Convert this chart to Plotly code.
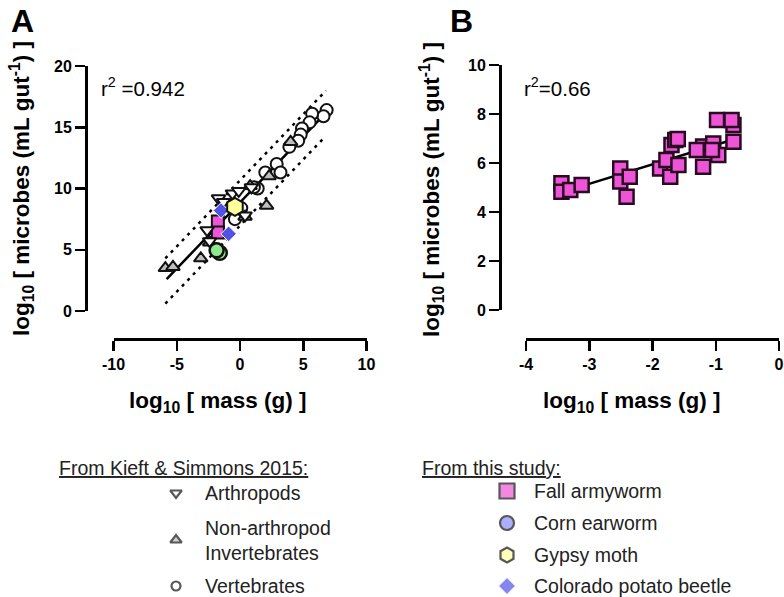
import plotly.graph_objects as go

W, H = 784, 597

# ---------------- Panel A data (log10 mass, log10 microbes) ----------------
arth_x = [-2.6, -2.4, -1.7, -1.3, -0.6, -0.1, 0.9, 0.4]
arth_y = [6.6, 5.7, 9.2, 8.9, 9.6, 9.8, 10.1, 7.8]

inv_x = [-5.9, -5.3, -3.1, -2.4, 0.8, 0.4, 2.1, 2.3, 4.0]
inv_y = [3.5, 3.6, 4.3, 5.6, 10.2, 7.7, 8.6, 11.0, 13.8]

vert_x = [6.85, 6.6, 5.7, 5.5, 4.9, 4.8, 4.6, 3.9, 2.9, 3.2, 2.0, 1.4, 1.1, -0.4, 0.1]
vert_y = [16.4, 15.9, 16.1, 15.4, 14.9, 14.4, 13.9, 13.4, 12.0, 11.3, 11.3, 10.0, 10.1, 7.5, 8.4]

faw_a_x = [-1.75, -1.75]
faw_a_y = [7.3, 6.4]
cew_a_x = [-1.6, -1.85]
cew_a_y = [4.75, 4.95]
gm_a_x = [-0.4]
gm_a_y = [8.5]
cpb_a_x = [-1.5, -0.9]
cpb_a_y = [8.2, 6.3]

fitA_x = [-5.8, 6.9]
fitA_y = [2.6, 16.3]
bandA_up_x = [-5.9, 6.8]
bandA_up_y = [4.3, 18.0]
bandA_lo_x = [-5.9, 6.7]
bandA_lo_y = [0.6, 14.2]

# ---------------- Panel B data (fall armyworm) ----------------
faw_b_x = [-3.44, -3.44, -3.30, -3.12, -2.51, -2.51, -2.36, -2.41, -1.88, -1.72,
           -1.78, -1.59, -1.70, -1.64, -1.60, -1.20, -1.04, -1.20, -0.96, -0.98,
           -0.72, -0.75, -0.72, -1.06, -1.30]
faw_b_y = [5.17, 4.83, 4.90, 5.10, 5.78, 5.24, 5.44, 4.62, 5.78, 5.44,
           6.12, 5.92, 6.73, 6.94, 6.98, 6.67, 6.80, 5.85, 6.33, 7.76,
           7.55, 7.76, 6.87, 6.53, 6.53]
fitB_x = [-3.44, -0.67]
fitB_y = [4.8, 7.0]

xA_ticks = [-10, -5, 0, 5, 10]
yA_ticks = [0, 5, 10, 15, 20]
xB_ticks = [-4, -3, -2, -1, 0]
yB_ticks = [0, 2, 4, 6, 8, 10]

left_labels = ["Arthropods", "Non-arthropod<br>Invertebrates", "Vertebrates"]
right_labels = ["Fall armyworm", "Corn earworm", "Gypsy moth", "Colorado potato beetle"]

PINK = "#EE55D6"
GREEN = "#8FE88F"
YELLOW = "#FFFF9C"
BLUE = "#5252E6"
LAV = "#8C8CFF"
GRAY = "#BEBEBE"
EDGE = "#111111"

FONT = "Liberation Sans, Arial, sans-serif"
NARROW = "Liberation Sans Narrow, Arial Narrow, Liberation Sans, Arial, sans-serif"

fig = go.Figure()

def px_x(p):
    return p / W

def px_y(p):
    return 1 - p / H

DOT = "3px,5px"

# ---- Panel A traces ----
fig.add_trace(go.Scatter(x=bandA_up_x, y=bandA_up_y, mode="lines",
                         line=dict(color="black", width=2.5, dash=DOT),
                         xaxis="x", yaxis="y"))
fig.add_trace(go.Scatter(x=bandA_lo_x, y=bandA_lo_y, mode="lines",
                         line=dict(color="black", width=2.5, dash=DOT),
                         xaxis="x", yaxis="y"))
fig.add_trace(go.Scatter(x=fitA_x, y=fitA_y, mode="lines",
                         line=dict(color="black", width=2.5), xaxis="x", yaxis="y"))
fig.add_trace(go.Scatter(x=vert_x, y=vert_y, mode="markers",
                         marker=dict(symbol="circle", size=12, color="white",
                                     line=dict(color=EDGE, width=2)), xaxis="x", yaxis="y"))
fig.add_trace(go.Scatter(x=inv_x, y=inv_y, mode="markers",
                         marker=dict(symbol="triangle-up", size=12, color=GRAY,
                                     line=dict(color=EDGE, width=2)), xaxis="x", yaxis="y"))
fig.add_trace(go.Scatter(x=faw_a_x, y=faw_a_y, mode="markers",
                         marker=dict(symbol="square", size=12, color=PINK,
                                     line=dict(color=EDGE, width=2)), xaxis="x", yaxis="y"))
fig.add_trace(go.Scatter(x=arth_x, y=arth_y, mode="markers",
                         marker=dict(symbol="triangle-down", size=12, color="white",
                                     line=dict(color=EDGE, width=2)), xaxis="x", yaxis="y"))
fig.add_trace(go.Scatter(x=cew_a_x, y=cew_a_y, mode="markers",
                         marker=dict(symbol="circle", size=14, color=GREEN,
                                     line=dict(color=EDGE, width=2.5)), xaxis="x", yaxis="y"))
fig.add_trace(go.Scatter(x=cpb_a_x, y=cpb_a_y, mode="markers",
                         marker=dict(symbol="diamond", size=12, color=BLUE,
                                     line=dict(color="white", width=1)), xaxis="x", yaxis="y"))
fig.add_trace(go.Scatter(x=gm_a_x, y=gm_a_y, mode="markers",
                         marker=dict(symbol="hexagon", size=18, color=YELLOW,
                                     line=dict(color=EDGE, width=2)), xaxis="x", yaxis="y"))

# ---- Panel B traces ----
fig.add_trace(go.Scatter(x=fitB_x, y=fitB_y, mode="lines",
                         line=dict(color="black", width=2.5), xaxis="x2", yaxis="y2"))
fig.add_trace(go.Scatter(x=faw_b_x, y=faw_b_y, mode="markers",
                         marker=dict(symbol="square", size=14, color=PINK,
                                     line=dict(color="#2A0A22", width=2.5)),
                         xaxis="x2", yaxis="y2"))

# ---- Legend markers on a pixel-space overlay axis ----
leg_left_y = [493, 540, 586]
leg_right_y = [491, 523, 555, 586]
leg_left_x = 176
leg_right_x = 507
fig.add_trace(go.Scatter(x=[leg_left_x] * 3, y=leg_left_y, mode="markers",
                         marker=dict(symbol=["triangle-down", "triangle-up", "circle"],
                                     size=[10, 10, 9], color=["white", GRAY, "white"],
                                     line=dict(color=EDGE, width=2.2)),
                         xaxis="x3", yaxis="y3", cliponaxis=False))
fig.add_trace(go.Scatter(x=[leg_right_x] * 4, y=leg_right_y, mode="markers",
                         marker=dict(symbol=["square", "circle", "hexagon", "diamond"],
                                     size=[15, 14, 15, 13], color=[PINK, LAV, YELLOW, BLUE],
                                     line=dict(color=[EDGE, EDGE, EDGE, "white"],
                                               width=[2.2, 2.2, 2.2, 1])),
                         xaxis="x3", yaxis="y3", cliponaxis=False))

axis_common = dict(showline=True, linecolor="black", linewidth=2.5, ticks="outside",
                   ticklen=10, tickwidth=2.5, tickcolor="black", showgrid=False,
                   zeroline=False, anchor="free", automargin=False,
                   tickfont=dict(family=FONT, size=16, color="black", weight="bold"))

fig.update_layout(
    width=W, height=H,
    margin=dict(l=0, r=0, t=0, b=0, pad=0, autoexpand=False),
    paper_bgcolor="white", plot_bgcolor="rgba(0,0,0,0)", showlegend=False,
    hovermode=False,
    xaxis=dict(domain=[px_x(113.5), px_x(366.5)], range=[-10, 10],
               tickvals=xA_ticks, ticktext=[str(v) for v in xA_ticks],
               position=px_y(339), **axis_common),
    yaxis=dict(domain=[px_y(311), px_y(66)], range=[0, 20],
               tickvals=yA_ticks, ticktext=[str(v) for v in yA_ticks],
               position=px_x(86), **axis_common),
    xaxis2=dict(domain=[px_x(526), px_x(779)], range=[-4, 0],
                tickvals=xB_ticks, ticktext=[str(v) for v in xB_ticks],
                position=px_y(339), **axis_common),
    yaxis2=dict(domain=[px_y(310), px_y(65)], range=[0, 10],
                tickvals=yB_ticks, ticktext=[str(v) for v in yB_ticks],
                position=px_x(500), **axis_common),
    xaxis3=dict(domain=[0, 1], range=[0, W], visible=False, anchor="y3"),
    yaxis3=dict(domain=[0, 1], range=[H, 0], visible=False, anchor="x3"),
)

ann = []
def text(x, y, s, size, bold=False, xanchor="center", angle=0, family=FONT, color="black"):
    ann.append(dict(x=px_x(x), y=px_y(y), xref="paper", yref="paper", text=s,
                    showarrow=False, xanchor=xanchor, yanchor="middle", textangle=angle,
                    align="left" if xanchor == "left" else "center",
                    font=dict(family=family, size=size, color=color,
                              weight="bold" if bold else "normal")))

ytitle = "log<sub>10</sub> [ microbes (mL gut<sup>-1</sup>) ]"
xtitle = "log<sub>10</sub> [ mass (g) ]"
text(22, 189, ytitle, 22.5, bold=True, angle=-90)
text(432, 189, ytitle, 22.5, bold=True, angle=-90)
text(218, 402, xtitle, 22.5, bold=True)
text(632, 402, xtitle, 22.5, bold=True)
text(22, 21, "A", 32, bold=True)
text(461, 21, "B", 32, bold=True)
text(99, 87, "r<sup>2</sup> =0.942", 20.5, xanchor="left")
text(522, 87, "r<sup>2</sup>=0.66", 20.5, xanchor="left")

LEG = 19.5
text(57, 468, "<u>From Kieft & Simmons 2015:</u>", LEG, xanchor="left", family=NARROW, color="#222")
text(420, 468, "<u>From this study:</u>", LEG, xanchor="left", family=NARROW, color="#222")
for yy, lab in zip(leg_left_y, left_labels):
    text(203, yy, lab, LEG, xanchor="left", family=NARROW, color="#222")
for yy, lab in zip(leg_right_y, right_labels):
    text(532, yy, lab, LEG, xanchor="left", family=NARROW, color="#222")

fig.update_layout(annotations=ann)
fig.write_html("out.html", config={"displayModeBar": False, "staticPlot": True},
               post_script="document.body.style.margin='0';document.body.style.overflow='hidden';")
